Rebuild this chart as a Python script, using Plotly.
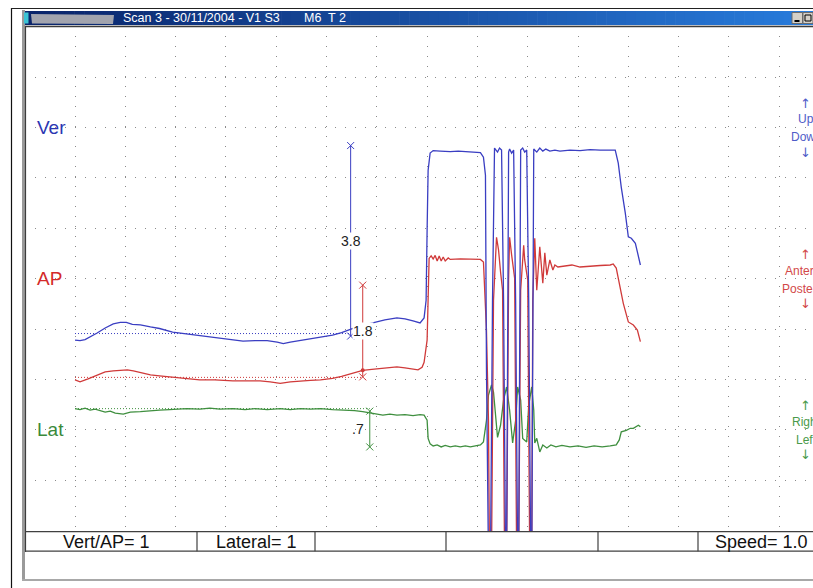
import plotly.graph_objects as go

# ---------------- data (samples at 100 Hz, displacement in cm) ----------------
ver_s = [0,5,10,15,22,30,38,45,51,57,65,75,84,97,109,124,139,157,167,179,191,201,207,214,224,234,241,248,256,265,273,283,296,308,320,328,336,343,347,349,350,351,353,356,363,373,381,390,398,403,406,408,409,411,413,415,417,420,422,424,426,428,429,431,432,434,436,438,440,441,443,445,447,449,451,453,454,456,459,462,465,468,472,477,482,492,502,512,522,532,537,540,543,547,550,553,557,559,562]
ver_v = [-0.13,-0.14,-0.12,-0.07,0.01,0.11,0.19,0.22,0.22,0.18,0.17,0.13,0.10,0.03,0.00,-0.03,-0.07,-0.12,-0.15,-0.14,-0.14,-0.17,-0.20,-0.17,-0.14,-0.11,-0.09,-0.06,-0.03,0.02,0.08,0.15,0.21,0.27,0.31,0.29,0.25,0.21,0.31,0.66,2.05,3.24,3.58,3.63,3.62,3.61,3.62,3.61,3.60,3.59,3.50,3.14,-0.72,-4.49,-4.49,0.66,3.68,3.60,3.68,3.64,0.66,-4.49,-4.49,3.60,3.66,3.58,3.64,0.66,-4.49,-4.49,3.64,3.68,3.60,3.64,0.66,-4.49,-4.49,3.66,3.60,3.68,3.62,3.66,3.62,3.64,3.62,3.64,3.63,3.65,3.64,3.64,3.64,3.38,2.90,2.39,1.92,1.89,1.79,1.62,1.36]

ap_s = [0,5,13,22,30,38,45,52,58,65,75,84,97,109,124,139,157,171,184,194,204,214,224,234,244,256,265,273,280,286,295,306,313,320,328,336,341,345,347,350,351,352,354,356,358,360,362,364,366,368,371,373,383,393,403,406,409,411,412,414,416,419,421,423,425,427,429,431,432,434,437,439,441,443,446,447,450,452,454,455,457,459,462,465,467,469,472,475,477,480,487,494,502,512,522,532,535,538,542,545,550,555,559,562]
ap_v = [-0.05,-0.09,-0.03,0.05,0.11,0.13,0.14,0.15,0.13,0.10,0.05,0.03,0.00,-0.03,-0.05,-0.05,-0.07,-0.07,-0.07,-0.09,-0.12,-0.09,-0.07,-0.06,-0.05,-0.02,0.02,0.07,0.11,0.14,0.16,0.18,0.20,0.21,0.19,0.16,0.15,0.20,0.30,0.74,1.73,2.36,2.41,2.35,2.42,2.31,2.41,2.31,2.39,2.31,2.37,2.34,2.35,2.34,2.34,2.29,0.94,-0.85,-3.63,-3.63,1.53,2.78,2.53,2.09,1.73,-3.63,-3.63,1.93,2.78,2.43,1.97,-3.63,-3.63,1.73,2.62,2.33,1.93,-3.63,-3.63,1.53,2.76,1.73,2.59,1.87,2.47,2.03,2.33,2.13,2.23,2.19,2.21,2.23,2.19,2.21,2.22,2.23,2.25,2.17,1.80,1.47,1.10,1.04,0.94,0.71]

lat_s = [0,5,10,15,20,25,30,35,40,48,55,65,75,84,94,104,111,124,134,144,157,169,179,191,204,214,224,234,244,256,268,278,286,295,306,313,320,328,336,343,347,350,351,353,356,360,364,368,373,378,383,388,393,398,403,406,409,411,414,416,419,420,423,426,429,432,435,438,440,443,445,449,451,454,456,457,459,462,465,469,473,478,484,492,500,508,516,524,532,538,541,543,548,552,555,558,560,562]
lat_v = [0.00,-0.02,0.01,-0.03,-0.01,-0.04,-0.07,-0.05,-0.09,-0.11,-0.07,-0.06,-0.04,-0.03,-0.02,0.00,0.00,-0.01,0.01,-0.01,0.00,-0.02,0.00,-0.02,0.00,-0.02,0.00,-0.01,0.00,-0.02,-0.03,-0.04,-0.06,-0.09,-0.13,-0.11,-0.13,-0.12,-0.14,-0.12,-0.13,-0.23,-0.59,-0.70,-0.74,-0.72,-0.76,-0.73,-0.76,-0.74,-0.76,-0.74,-0.76,-0.74,-0.72,-0.66,-0.23,0.27,0.47,0.33,-0.39,-0.57,-0.33,0.17,0.43,-0.03,-0.68,-0.23,0.43,0.17,-0.59,-0.66,0.07,0.43,-0.03,-0.68,-0.59,-0.86,-0.72,-0.78,-0.72,-0.76,-0.73,-0.76,-0.74,-0.77,-0.74,-0.76,-0.74,-0.72,-0.62,-0.46,-0.43,-0.39,-0.39,-0.35,-0.33,-0.36]

channels = ["Ver", "AP", "Lat"]
meas_s = [274, 286, 293]          # cursor sample per channel
meas_lo = [-0.05, 0.01, -0.76]
meas_hi = [3.73, 1.83, -0.05]
meas_label = ["3.8", "1.8", ".7"]
ap_cursor_value = 0.14

right_labels = [["\u2191", "Up", "Down", "\u2193"],
                ["\u2191", "Anterior", "Posterior", "\u2193"],
                ["\u2191", "Right", "Left", "\u2193"]]
status_texts = ["Vert/AP= 1", "Lateral= 1", "Speed= 1.0"]
title_parts = ["Scan 3 - 30/11/2004 - V1 S3", "M6", "T 2"]

# ---------------- styling / layout constants ----------------
W, H = 813, 588
FS = 100.0                                  # samples per second
ZERO = {"Ver": 3.91, "AP": 3.04, "Lat": 2.42}   # channel zero on the screen scale
ROW = {"Ver": 8, "AP": 5, "Lat": 2}
LINE = {"Ver": "#3a3ec2", "AP": "#d03a3a", "Lat": "#3f8f3f"}
LABEL = {"Ver": "#2b36b2", "AP": "#d42a2a", "Lat": "#3a8a3a"}
SIDE = {"Ver": "#4f5cc8", "AP": "#d24848", "Lat": "#4a9a4a"}
FONT = "Liberation Sans, Arial, sans-serif"


def px(x):
    return x / W


def py(y):
    return 1 - y / H


series = {"Ver": (ver_s, ver_v), "AP": (ap_s, ap_v), "Lat": (lat_s, lat_v)}

fig = go.Figure()

# baseline dotted references
for i, ch in enumerate(channels):
    fig.add_trace(go.Scatter(
        x=[0, meas_s[i] / FS], y=[ZERO[ch], ZERO[ch]], mode="lines",
        line=dict(color=LINE[ch], width=1, dash="1px,2px"), hoverinfo="skip"))

# traces
for ch in ["Lat", "AP", "Ver"]:
    s, v = series[ch]
    fig.add_trace(go.Scatter(
        x=[k / FS for k in s], y=[ZERO[ch] + val for val in v], mode="lines",
        line=dict(color=LINE[ch], width=1.3), hoverinfo="skip"))

# measurement cursors
for i, ch in enumerate(channels):
    t = meas_s[i] / FS
    fig.add_trace(go.Scatter(
        x=[t, t], y=[ZERO[ch] + meas_lo[i], ZERO[ch] + meas_hi[i]],
        mode="lines+markers", line=dict(color=LINE[ch], width=1),
        marker=dict(symbol="x-thin", size=7, line=dict(width=1, color=LINE[ch])),
        hoverinfo="skip"))
fig.add_trace(go.Scatter(
    x=[meas_s[1] / FS], y=[ZERO["AP"] + ap_cursor_value], mode="markers",
    marker=dict(symbol="circle", size=4, color=LINE["AP"]), hoverinfo="skip"))

annotations = []
for i, ch in enumerate(channels):
    mid = ZERO[ch] + (meas_lo[i] + meas_hi[i]) / 2
    right = meas_label[i].startswith(".")
    annotations.append(dict(
        x=meas_s[i] / FS, y=mid, xref="x", yref="y", text=meas_label[i],
        showarrow=False, xanchor="right" if right else "center",
        xshift=-5 if right else 0, bgcolor="white" if not right else None,
        borderpad=0, font=dict(family=FONT, size=14, color="#222222")))

# channel names on the left
for ch in channels:
    annotations.append(dict(
        x=px(35), y=ROW[ch], xref="paper", yref="y", text=ch, showarrow=False,
        xanchor="left", yanchor="middle", font=dict(family=FONT, size=19, color=LABEL[ch])))

# direction labels on the right (partly outside the window, as in the capture)
shifts = [24, 8, -10, -25]
for ch, labels in zip(channels, right_labels):
    for lab, sh in zip(labels, shifts):
        is_arrow = lab in ("\u2191", "\u2193")
        annotations.append(dict(
            x=px(805 if is_arrow else 806), y=ROW[ch], xref="paper", yref="y", text=lab,
            showarrow=False, xanchor="center", yanchor="middle", yshift=sh,
            font=dict(family="DejaVu Sans, sans-serif" if is_arrow else FONT,
                      size=13 if is_arrow else 12, color=SIDE[ch])))

# status bar texts
annotations.append(dict(x=px(106), y=py(541.5), xref="paper", yref="paper", text=status_texts[0],
                        showarrow=False, xanchor="center", yanchor="middle",
                        font=dict(family=FONT, size=18, color="#111111")))
annotations.append(dict(x=px(256), y=py(541.5), xref="paper", yref="paper", text=status_texts[1],
                        showarrow=False, xanchor="center", yanchor="middle",
                        font=dict(family=FONT, size=18, color="#111111")))
annotations.append(dict(x=px(713), y=py(541.5), xref="paper", yref="paper", text=status_texts[2],
                        showarrow=False, xanchor="left", yanchor="middle",
                        font=dict(family=FONT, size=18, color="#111111")))

# title bar texts
for txt, xpos in zip(title_parts, [121, 302, 326]):
    annotations.append(dict(x=px(xpos), y=py(18.5), xref="paper", yref="paper", text=txt,
                            showarrow=False, xanchor="left", yanchor="middle",
                            font=dict(family=FONT, size=12.5, color="white")))

shapes = []


def line(x0, y0, x1, y1, color, width=1):
    shapes.append(dict(type="line", xref="paper", yref="paper", x0=px(x0), y0=py(y0),
                       x1=px(x1), y1=py(y1), line=dict(color=color, width=width)))


def rect(x0, y0, x1, y1, fill, lc=None, lw=0):
    shapes.append(dict(type="rect", xref="paper", yref="paper", x0=px(x0), y0=py(y0),
                       x1=px(x1), y1=py(y1), fillcolor=fill,
                       line=dict(color=lc or fill, width=lw)))


# outer lines
line(11.5, 8, 11.5, 588, "#111111", 1.2)
line(11, 8.5, 813, 8.5, "#222222", 1.2)
# window frame (grey)
line(23.5, 10, 23.5, 581, "#9a9a9a", 3)
line(22, 580, 813, 580, "#a8a8a8", 2)

# title bar gradient
c0 = (10, 36, 106)
c1 = (40, 124, 220)
N = 80
x_start, x_end = 25, 813
for k in range(N):
    f = k / (N - 1)
    col = "rgb(%d,%d,%d)" % tuple(int(c0[j] + (c1[j] - c0[j]) * f) for j in range(3))
    xa = x_start + (x_end - x_start) * k / N
    xb = x_start + (x_end - x_start) * (k + 1) / N + 0.6
    rect(xa, 11, xb, 25, col)
# icon + redacted app name
rect(24, 12.5, 28.5, 23.5, "#3cc4d4")
shapes.append(dict(type="path", xref="paper", yref="paper",
                   path="M %f,%f L %f,%f L %f,%f L %f,%f Z" % (
                       px(31), py(14), px(114), py(15), px(113), py(24), px(32), py(23.5)),
                   fillcolor="#a2a4ae", line=dict(width=0)))
# window buttons
rect(792, 12.5, 802.5, 23.5, "#d4d0c8", "#6a6a6a", 1)
line(794.5, 21, 799.5, 21, "#000000", 2)
rect(803, 12.5, 813, 23.5, "#d4d0c8", "#6a6a6a", 1)
rect(805, 15, 811, 21, "rgba(0,0,0,0)", "#000000", 1)
# panel edge below title
line(25, 25.8, 813, 25.8, "#a0a0a0", 1)
# plot panel border (sunken)
line(25.5, 26, 25.5, 552, "#3c3c3c", 1.2)
line(25, 26.6, 813, 26.6, "#3c3c3c", 1.2)
# status bar
line(25, 531.6, 813, 531.6, "#404040", 1.3)
line(25, 551.2, 813, 551.2, "#404040", 1.3)
for xs in [197, 315, 446, 598, 698]:
    line(xs, 531.6, xs, 551.2, "#404040", 1.2)

x0_s = (25 - 75) * 0.994 / FS
x1_s = (813 - 75) * 0.994 / FS
fig.update_layout(
    width=W, height=H, margin=dict(l=0, r=0, t=0, b=0),
    paper_bgcolor="white", plot_bgcolor="white", showlegend=False,
    xaxis=dict(domain=[px(25), 1], range=[x0_s, x1_s], dtick=0.5, tick0=0,
               showgrid=True, gridcolor="#8a8a8a", gridwidth=1, griddash="1px,9px",
               showticklabels=False, ticks="", zeroline=False, showline=False, fixedrange=True),
    yaxis=dict(domain=[py(531), py(26)], range=[-0.008, 10.012], dtick=1, tick0=0,
               showgrid=True, gridcolor="#8a8a8a", gridwidth=1, griddash="1px,9px",
               showticklabels=False, ticks="", zeroline=False, showline=False, fixedrange=True),
    annotations=annotations, shapes=shapes,
)

fig.write_html(
    "out.html",
    config={"displayModeBar": False},
    post_script="document.body.style.margin='0';document.body.style.padding='0';"
                "document.body.style.overflow='hidden';",
)
